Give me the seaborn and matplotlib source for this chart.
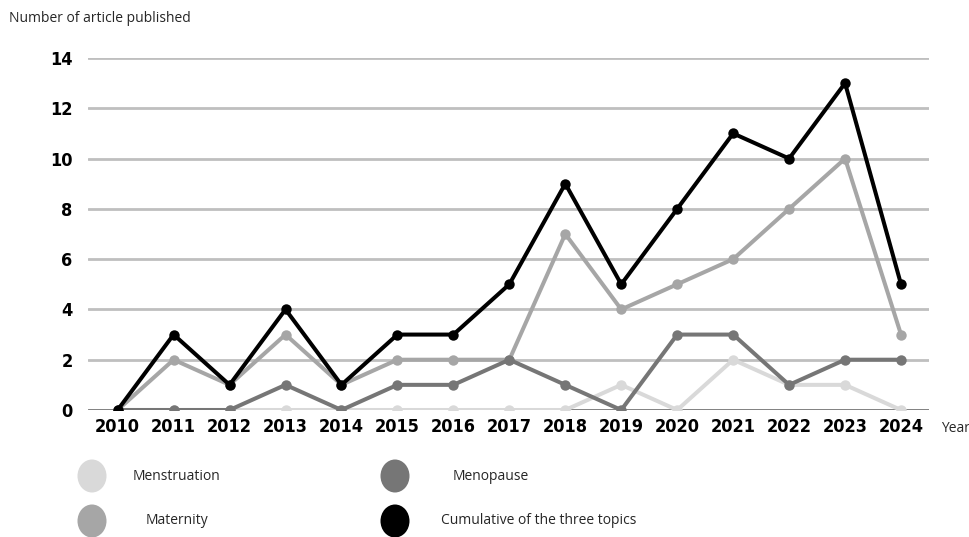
import matplotlib
matplotlib.use("Agg")
import matplotlib.pyplot as plt
from matplotlib.patches import Ellipse
import seaborn as sns
import pandas as pd

years = [2010, 2011, 2012, 2013, 2014, 2015, 2016, 2017, 2018, 2019, 2020, 2021, 2022, 2023, 2024]
menstruation = [0, 0, 0, 0, 0, 0, 0, 0, 0, 1, 0, 2, 1, 1, 0]
maternity = [0, 2, 1, 3, 1, 2, 2, 2, 7, 4, 5, 6, 8, 10, 3]
menopause = [0, 0, 0, 1, 0, 1, 1, 2, 1, 0, 3, 3, 1, 2, 2]
cumulative = [0, 3, 1, 4, 1, 3, 3, 5, 9, 5, 8, 11, 10, 13, 5]
series_names = ["Menstruation", "Maternity", "Menopause", "Cumulative of the three topics"]
y_ticks = [0, 2, 4, 6, 8, 10, 12, 14]

colors = {"Menstruation": "#d9d9d9", "Maternity": "#a6a6a6",
          "Menopause": "#767676", "Cumulative of the three topics": "#000000"}

rows = []
for name, vals in zip(series_names, [menstruation, maternity, menopause, cumulative]):
    for i, (yr, v) in enumerate(zip(years, vals)):
        rows.append({"idx": i, "Year": yr, "value": v, "topic": name})
df = pd.DataFrame(rows)

sns.set_theme(style="white")
plt.rcParams['font.family'] = ['Open Sans', 'DejaVu Sans']

fig = plt.figure(figsize=(9.7, 5.37), dpi=100)
ax = fig.add_axes([88/970, 1-410/537, (929-88)/970, (410-58)/537])

for t in y_ticks[1:]:
    ax.axhline(t, color="#bfbfbf", lw=2, zorder=0)
ax.axhline(0, color="#767676", lw=2, zorder=0.5)

sns.lineplot(data=df, x="idx", y="value", hue="topic", hue_order=series_names,
             palette=colors, marker="o", markersize=7.5, markeredgewidth=0,
             linewidth=2.9, legend=False, ax=ax, zorder=3)

ax.set_xlim(-0.53, 14.5)
ax.set_ylim(0, 14)
ax.set_xticks(range(len(years)))
tick_font = dict(family=['DejaVu Sans'], fontweight='bold', fontstretch='condensed', fontsize=13)
ax.set_xticklabels([str(y) for y in years], **tick_font)
ax.set_yticks(y_ticks)
ax.set_yticklabels([str(t) for t in y_ticks], **tick_font)
ax.tick_params(axis='x', length=0, pad=6, colors='black')
ax.tick_params(axis='y', length=0, pad=11, colors='black')
ax.set_xlabel("")
ax.set_ylabel("")
for s in ax.spines.values():
    s.set_visible(False)

fig.text(9/970, 1-19/537, "Number of article published", fontsize=10, va='center', ha='left')
fig.text(941/970, 1-428/537, "Year", fontsize=10, va='center', ha='left')

# legend layer in pixel coordinates
lax = fig.add_axes([0, 0, 1, 1], zorder=-1)
lax.set_xlim(0, 970)
lax.set_ylim(537, 0)
lax.axis('off')
legend_items = [
    ("Menstruation", 92, 476, 133),
    ("Menopause", 395, 476, 453),
    ("Maternity", 92, 521, 146),
    ("Cumulative of the three topics", 395, 521, 441),
]
for name, cx, cy, tx in legend_items:
    lax.add_patch(Ellipse((cx, cy), 29, 33, color=colors[name], lw=0))
    lax.text(tx, cy, name, fontsize=10, va='center', ha='left')

fig.savefig("out.png", dpi=100)
